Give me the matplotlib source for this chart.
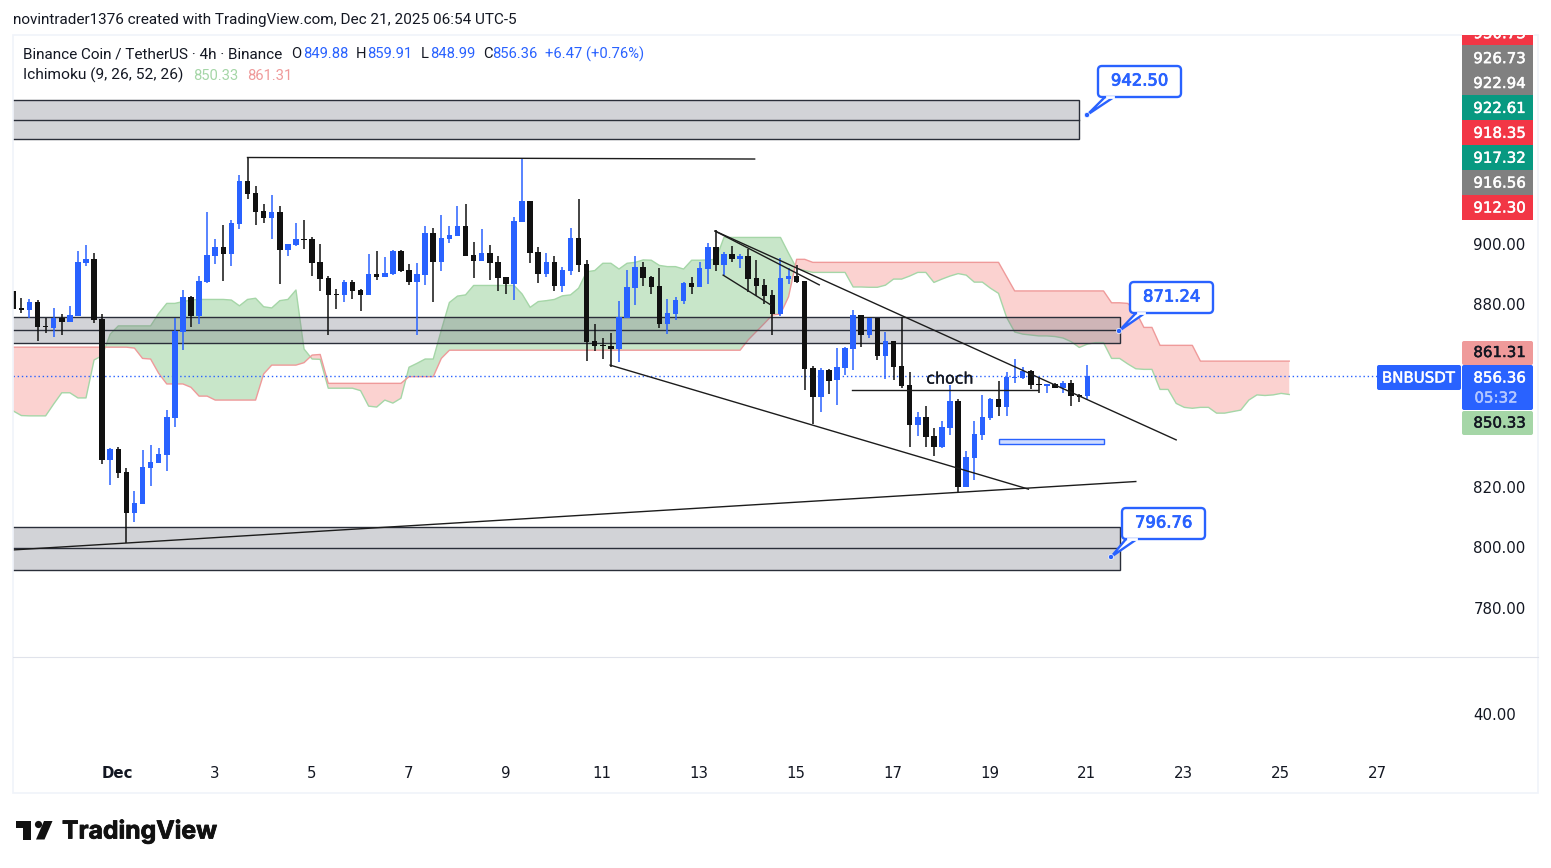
import matplotlib
matplotlib.use("Agg")
import matplotlib.pyplot as plt
import matplotlib.patheffects as pe
from matplotlib.patches import FancyBboxPatch, Polygon, Rectangle, Circle

W, H = 1551, 868
BLUE = "#2962ff"
BLACK = "#111111"
TEXT = "#131722"

# candles, 4h bars
opens = [
    884.3, 878.8, 878.1, 880.8, 872.9, 872.3, 875.5, 874.3, 876.2, 893.6,
    894.9, 875.2, 828.9, 832.4, 824.8, 811.5, 814.4, 826.3, 827.9, 830.5,
    842.7, 871.0, 882.4, 876.3, 887.3, 896.0, 898.9, 896.7, 906.5, 920.6,
    916.6, 910.7, 908.5, 910.4, 898.0, 899.5, 901.5, 901.5, 893.9, 888.6,
    883.4, 883.2, 887.3, 884.7, 883.2, 890.0, 889.0, 890.0, 897.5, 891.3,
    887.3, 889.6, 903.5, 893.9, 901.5, 902.5, 905.8, 896.2, 894.2, 896.9,
    893.9, 889.0, 886.7, 907.1, 914.0, 897.2, 890.0, 893.9, 886.0, 891.0,
    901.8, 893.3, 867.9, 866.6, 866.3, 865.3, 875.6, 885.4, 892.3, 889.0,
    886.0, 873.5, 876.8, 881.1, 887.0, 885.7, 891.6, 898.9, 892.9, 896.6,
    894.9, 895.9, 888.7, 886.3, 883.1, 876.8, 888.3, 889.3, 887.7, 859.0,
    849.5, 858.4, 855.1, 859.0, 865.3, 876.5, 869.9, 875.5, 863.0, 867.9,
    859.7, 853.4, 840.3, 842.9, 836.7, 833.1, 839.3, 848.2, 819.9, 829.4,
    837.0, 842.6, 848.8, 846.2, 855.8, 855.8, 858.1, 853.8, 853.1, 853.8,
    852.5, 854.1, 850.2, 849.88,
]
closes = [
    878.6, 878.1, 880.8, 872.7, 872.5, 875.5, 874.3, 876.5, 893.9, 894.9,
    874.8, 828.9, 832.4, 824.6, 811.5, 814.5, 826.5, 828.1, 830.8, 842.9,
    871.3, 882.4, 876.3, 887.7, 896.2, 898.9, 896.7, 906.7, 920.6, 916.4,
    910.5, 908.5, 910.4, 898.0, 899.8, 901.5, 901.2, 893.7, 888.4, 883.2,
    883.1, 887.3, 884.5, 883.2, 890.0, 889.0, 890.3, 897.5, 891.1, 887.3,
    890.0, 903.5, 893.9, 901.8, 902.8, 905.8, 895.9, 894.2, 896.9, 893.6,
    888.7, 886.7, 907.4, 914.0, 896.9, 890.0, 893.9, 886.0, 891.3, 901.8,
    892.9, 867.6, 866.3, 866.3, 865.3, 875.8, 885.7, 892.3, 888.7, 885.7,
    873.5, 877.1, 881.4, 887.0, 885.7, 891.9, 898.9, 892.9, 896.6, 894.9,
    895.9, 888.3, 886.0, 882.7, 876.8, 888.7, 889.3, 887.3, 858.7, 849.5,
    858.4, 854.8, 859.4, 865.6, 876.5, 869.9, 875.5, 863.0, 867.9, 859.4,
    853.1, 840.3, 842.9, 836.3, 833.1, 839.6, 848.2, 819.9, 829.8, 837.3,
    842.9, 848.8, 846.2, 856.1, 856.1, 858.1, 853.5, 853.5, 853.8, 852.5,
    854.1, 849.8, 849.5, 856.36,
]
highs = [
    884.5, 882.0, 881.7, 881.4, 875.6, 878.8, 876.8, 879.4, 897.5, 899.5,
    896.9, 876.8, 832.6, 833.1, 826.0, 818.6, 832.1, 833.7, 832.7, 845.1,
    875.6, 884.7, 882.7, 889.3, 910.4, 901.5, 906.1, 907.7, 922.5, 928.3,
    918.9, 913.0, 916.0, 912.3, 899.8, 906.7, 907.7, 902.0, 899.8, 889.3,
    885.0, 888.0, 888.0, 885.0, 896.5, 897.5, 895.6, 897.9, 897.9, 893.3,
    893.6, 905.8, 905.1, 909.4, 905.8, 912.3, 913.0, 900.5, 904.8, 899.5,
    895.9, 889.0, 908.7, 927.8, 914.0, 898.9, 896.9, 895.9, 892.3, 905.1,
    914.6, 894.6, 873.5, 868.9, 870.6, 881.1, 891.3, 895.9, 893.9, 889.3,
    891.9, 881.7, 882.4, 887.3, 889.0, 893.9, 900.2, 904.4, 897.2, 899.2,
    896.6, 898.2, 894.6, 888.3, 884.7, 895.2, 891.9, 892.9, 887.7, 859.7,
    859.0, 858.7, 865.6, 865.9, 878.1, 876.5, 875.5, 875.5, 870.9, 867.9,
    875.8, 857.7, 844.6, 846.5, 839.3, 841.6, 853.4, 848.8, 831.8, 841.6,
    850.2, 849.2, 854.8, 857.7, 862.0, 859.4, 858.4, 856.1, 853.8, 854.2,
    854.8, 855.1, 850.5, 859.91,
]
lows = [
    878.5, 877.3, 875.4, 868.0, 870.7, 869.4, 870.0, 874.3, 876.0, 892.6,
    874.0, 827.5, 820.6, 823.0, 801.4, 808.5, 814.4, 820.3, 827.9, 825.3,
    839.8, 865.1, 872.7, 873.6, 887.0, 893.4, 887.8, 892.7, 904.9, 914.7,
    906.2, 906.9, 901.6, 886.8, 896.0, 899.2, 898.3, 889.4, 884.5, 870.0,
    878.6, 880.9, 881.9, 877.9, 883.2, 888.1, 889.0, 889.6, 890.6, 886.5,
    869.9, 886.3, 880.8, 891.0, 900.2, 902.5, 895.9, 888.7, 894.2, 888.0,
    884.4, 883.4, 881.4, 907.1, 893.6, 887.0, 889.0, 884.4, 884.0, 889.6,
    890.6, 861.3, 864.6, 862.0, 859.5, 861.0, 875.6, 879.8, 886.0, 883.4,
    872.2, 870.2, 874.8, 880.1, 883.4, 885.7, 886.7, 891.0, 889.6, 893.9,
    892.0, 884.0, 882.7, 880.1, 869.9, 876.2, 886.7, 887.0, 851.8, 840.6,
    844.6, 850.5, 846.9, 856.7, 858.4, 865.9, 868.9, 861.7, 855.4, 855.1,
    852.5, 833.1, 836.7, 833.1, 830.1, 832.7, 837.0, 818.3, 819.9, 822.2,
    835.4, 841.9, 843.3, 843.3, 854.1, 855.4, 852.1, 850.8, 850.8, 852.5,
    850.8, 846.5, 847.9, 848.99,
]

# ichimoku cloud edges, they run 25 bars past the last candle
span_a = [
    844.9, 843.4, 843.3, 843.3, 843.3, 847.2, 850.9, 850.9, 849.2, 849.2,
    861.7, 863.1, 870.2, 872.9, 872.9, 872.9, 872.9, 872.9, 877.0, 880.3,
    880.3, 880.9, 881.4, 881.6, 881.6, 881.6, 881.6, 881.4, 879.5, 881.6,
    882.0, 879.2, 878.8, 881.2, 881.6, 884.7, 865.3, 862.0, 861.9, 852.4,
    852.4, 852.4, 852.4, 851.6, 846.5, 846.2, 848.5, 847.5, 849.1, 859.3,
    860.6, 862.0, 862.0, 871.5, 880.6, 882.7, 883.1, 886.2, 886.2, 886.2,
    886.2, 886.2, 886.2, 883.4, 879.0, 880.9, 881.2, 881.6, 882.8, 883.1,
    885.3, 890.7, 891.1, 893.5, 893.5, 891.6, 893.5, 893.8, 894.6, 894.5,
    892.8, 892.4, 892.4, 891.6, 894.5, 894.5, 894.6, 894.8, 902.0, 902.0,
    902.0, 902.0, 902.0, 902.0, 902.0, 902.0, 896.8, 891.8, 891.1, 890.5,
    890.5, 890.5, 890.5, 890.5, 885.7, 885.7, 885.6, 885.6, 886.3, 888.3,
    888.3, 889.3, 890.5, 890.5, 887.2, 888.3, 889.3, 890.1, 889.6, 887.3,
    887.3, 885.3, 883.6, 875.7, 870.9, 870.2, 869.9, 869.6, 869.6, 869.4,
    868.9, 867.7, 865.8, 866.9, 867.4, 867.4, 862.2, 862.2, 860.4, 858.8,
    858.6, 858.6, 852.0, 852.0, 847.4, 846.1, 845.8, 846.1, 846.1, 844.2,
    844.2, 844.7, 845.2, 848.5, 850.2, 850.0, 850.2, 850.7, 850.33,
]
span_b = [
    865.9, 865.9, 865.9, 865.9, 865.9, 865.9, 865.9, 865.9, 865.9, 865.9,
    865.9, 865.9, 865.9, 865.9, 865.9, 865.6, 862.2, 862.0, 857.3, 853.8,
    853.8, 853.8, 852.7, 849.8, 849.8, 848.5, 848.5, 848.5, 848.5, 848.5,
    848.5, 857.1, 860.0, 860.0, 860.0, 860.0, 860.8, 863.3, 863.5, 854.0,
    854.0, 854.0, 854.0, 854.0, 854.0, 854.0, 854.0, 854.0, 854.0, 856.2,
    856.2, 856.2, 856.2, 862.2, 864.9, 864.9, 864.9, 864.9, 864.9, 864.9,
    864.9, 864.9, 864.9, 864.9, 864.9, 864.9, 864.9, 864.9, 864.9, 864.9,
    864.9, 864.9, 864.9, 864.9, 864.9, 864.9, 864.9, 864.9, 864.9, 864.9,
    864.9, 864.9, 864.9, 864.9, 864.9, 864.9, 864.9, 864.9, 864.9, 864.9,
    864.9, 868.3, 871.0, 873.7, 876.5, 876.8, 882.5, 894.8, 894.8, 893.8,
    893.8, 893.8, 893.8, 893.8, 893.8, 893.8, 893.8, 893.8, 893.8, 893.8,
    893.8, 893.8, 893.8, 893.8, 893.8, 893.8, 893.8, 893.8, 893.8, 893.8,
    893.8, 893.8, 893.8, 889.1, 884.4, 884.4, 884.4, 884.4, 884.4, 884.4,
    884.4, 884.4, 884.4, 884.4, 884.4, 884.4, 880.5, 880.5, 880.3, 877.6,
    872.4, 872.4, 866.5, 866.5, 866.5, 866.5, 866.5, 861.31, 861.31, 861.31,
    861.31, 861.31, 861.31, 861.31, 861.31, 861.31, 861.31, 861.31, 861.31,
]

# supply / demand boxes: first bar, last bar, top, middle, bottom
zones = [
    (-10, 132, 947.2, 940.6, 934.4),
    (-10, 137, 875.7, 871.4, 867.2),
    (-10, 137, 806.9, 799.9, 792.7),
]
# trend lines: bar, price, bar, price
trend_lines = [
    (0, 799.2, 139, 821.7),
    (29, 928.3, 91.8, 927.8),
    (73.9, 860.0, 125.7, 819.2),
    (86.9, 904.1, 144, 835.4),
    (86.9, 904.1, 99.8, 886.4),
    (87.9, 889.6, 93.8, 879.8),
    (103.8, 851.8, 126.9, 851.8),
]
target_box = (122, 135, 834.0, 835.6)
last_price = 856.36

price_ticks = [780, 800, 820, 880, 900]
day_labels = ["Dec", "3", "5", "7", "9", "11", "13", "15", "17", "19", "21", "23", "25", "27"]
day_bars = [13, 25, 37, 49, 61, 73, 85, 97, 109, 121, 133, 145, 157, 169]

stack_labels = ["930.73", "926.73", "922.94", "922.61", "918.35", "917.32", "916.56", "912.30"]
stack_colors = ["#f23645", "#808080", "#808080", "#089981", "#f23645", "#089981", "#808080", "#f23645"]

callouts = [
    ("942.50", (1098, 66, 1181, 97), (1087, 115), (1105, 1114)),
    ("871.24", (1130, 282, 1213, 313), (1119, 331), (1136, 1145)),
    ("796.76", (1122, 508, 1205, 539), (1111, 557), (1126, 1137)),
]


def px_axes(left, top, right, bottom):
    return fig.add_axes([left / W, 1 - bottom / H, (right - left) / W, (bottom - top) / H])


def heavier(color, w=0.35):
    return [pe.withStroke(linewidth=w, foreground=color)]


fig = plt.figure(figsize=(W / 100, H / 100), dpi=100, facecolor="white")

ax = px_axes(13, 35, 1461, 656)
ax.set_xlim(-0.04, 179.27)
ax.set_ylim(764.3, 968.6)
for s in ax.spines.values():
    s.set_visible(False)

# cloud
cloud_x = list(range(len(span_a)))
ax.fill_between(cloud_x, span_a, span_b, where=[a >= b for a, b in zip(span_a, span_b)],
                interpolate=True, color="#c8e6c9", lw=0, zorder=1)
ax.fill_between(cloud_x, span_a, span_b, where=[a < b for a, b in zip(span_a, span_b)],
                interpolate=True, color="#fbd2d0", lw=0, zorder=1)
ax.plot(cloud_x, span_a, color="#a5d6a7", lw=1.0, zorder=1.5)
ax.plot(cloud_x, span_b, color="#ef9a9a", lw=1.0, zorder=1.5)

# zones
for x0, x1, top, mid, bot in zones:
    ax.add_patch(Rectangle((x0, bot), x1 - x0, top - bot, facecolor="#787b86", alpha=0.33, lw=0, zorder=2))
    ax.add_patch(Rectangle((x0, bot), x1 - x0, top - bot, fill=False, edgecolor="#2a2e39", lw=1.0, zorder=2.1))
    ax.plot([x0, x1], [mid, mid], color="#2a2e39", lw=1.0, zorder=2.1)

ax.add_patch(Rectangle((target_box[0], target_box[2]), target_box[1] - target_box[0],
                       target_box[3] - target_box[2], facecolor="#cfdcff", edgecolor=BLUE, lw=1.0, zorder=2))

# candles
bars = list(range(len(opens)))
colors = [BLUE if c >= o else BLACK for o, c in zip(opens, closes)]
ax.vlines(bars, lows, highs, colors=colors, lw=1.1, zorder=3)
ax.bar(bars, [abs(c - o) for o, c in zip(opens, closes)], bottom=[min(o, c) for o, c in zip(opens, closes)],
       width=0.68, color=colors, lw=0, zorder=3)

for x0, y0, x1, y1 in trend_lines:
    ax.plot([x0, x1], [y0, y1], color="#1c1c1c", lw=1.0, zorder=4)
ax.text(116.0, 855.4, "choch", color=TEXT, fontsize=11.4, ha="center", va="center", zorder=4,
        path_effects=heavier(TEXT, 0.2))

ax.axhline(last_price, color=BLUE, lw=1.0, ls=(0, (1, 2)), zorder=2.5)

ax.set_xticks([])
ax.yaxis.tick_right()
ax.set_yticks(price_ticks)
ax.set_yticklabels(["%.2f" % p for p in price_ticks], fontsize=10.8, color=TEXT)
ax.tick_params(axis="y", length=0, pad=9)

# lower pane and time axis
ax_low = px_axes(13, 656, 1461, 760)
ax_low.set_xlim(0.03, 179.34)
ax_low.set_ylim(-6, 98)
for s in ax_low.spines.values():
    s.set_visible(False)
ax_low.yaxis.tick_right()
ax_low.set_yticks([40])
ax_low.set_yticklabels(["40.00"], fontsize=10.8, color=TEXT)
ax_low.set_xticks(day_bars)
ax_low.set_xticklabels(day_labels, fontsize=10.8, color=TEXT)
ax_low.get_xticklabels()[0].set_fontweight("bold")
ax_low.tick_params(axis="y", length=0, pad=9)
ax_low.tick_params(axis="x", length=0, pad=4.2)

# overlay in pixel coordinates for the scale badges, callouts and page text
ui = px_axes(0, 0, W, H)
ui.set_xlim(0, W)
ui.set_ylim(H, 0)
ui.axis("off")
ui.patch.set_alpha(0)

frame = "#f0f3fa"
ui.add_patch(Rectangle((12.5, 34.5), 1525.5, 758.5, fill=False, edgecolor=frame, lw=1.2))
ui.plot([13, 1538], [656.5, 656.5], color="#e0e3eb", lw=0.8)

for i, (lab, col) in enumerate(zip(stack_labels, stack_colors)):
    y0 = 20.5 + i * 24.9
    ui.add_patch(Rectangle((1462, y0), 71, 24.9, facecolor=col, lw=0))
    ui.text(1499.5, y0 + 13.2, lab, color="white", fontsize=10.8, ha="center", va="center",
            path_effects=heavier("white"))
ui.add_patch(Rectangle((1462, 15), 72, 19.5, facecolor="white", lw=0, zorder=3))

ui.add_patch(FancyBboxPatch((1462, 341), 71, 24, boxstyle="round,pad=0,rounding_size=2", facecolor="#ef9a9a", lw=0))
ui.add_patch(FancyBboxPatch((1462, 411), 71, 24, boxstyle="round,pad=0,rounding_size=2", facecolor="#a5d6a7", lw=0))
ui.add_patch(FancyBboxPatch((1462, 365), 71, 45, boxstyle="round,pad=0,rounding_size=2", facecolor=BLUE, lw=0))
ui.add_patch(FancyBboxPatch((1377, 365), 84, 25, boxstyle="round,pad=0,rounding_size=2", facecolor=BLUE, lw=0))
ui.text(1499.5, 352.5, "861.31", color=TEXT, fontsize=10.8, ha="center", va="center", path_effects=heavier(TEXT))
ui.text(1499.5, 423, "850.33", color=TEXT, fontsize=10.8, ha="center", va="center", path_effects=heavier(TEXT))
ui.text(1499.5, 378, "856.36", color="white", fontsize=10.8, ha="center", va="center", path_effects=heavier("white"))
ui.text(1496, 398, "05:32", color="#b4c8ff", fontsize=10.8, ha="center", va="center", path_effects=heavier("#b4c8ff"))
ui.text(1418.5, 378, "BNBUSDT", color="white", fontsize=10.8, ha="center", va="center", path_effects=heavier("white"))

for lab, (x0, y0, x1, y1), (dx, dy), (b0, b1) in callouts:
    ui.add_patch(Polygon([(dx, dy), (b0, y1), (b1, y1)], closed=True, facecolor="white", edgecolor=BLUE, lw=1.7))
    ui.add_patch(FancyBboxPatch((x0, y0), x1 - x0, y1 - y0, boxstyle="round,pad=0,rounding_size=4",
                                facecolor="white", edgecolor=BLUE, lw=1.7))
    ui.plot([b0 + 1.5, b1 - 1.5], [y1, y1], color="white", lw=2)
    ui.add_patch(Circle((dx, dy), 2.6, facecolor=BLUE, edgecolor="white", lw=0.5))
    ui.text((x0 + x1) / 2, (y0 + y1) / 2 - 0.5, lab, color=BLUE, fontsize=11.8, ha="center", va="center",
            path_effects=heavier(BLUE, 0.6))

ff = "Roboto"
ui.text(13, 20, "novintrader1376 created with TradingView.com, Dec 21, 2025 06:54 UTC-5", color=TEXT,
        fontsize=10.97, family=ff, va="center")
ui.text(23, 54.5, "Binance Coin / TetherUS · 4h · Binance", color=TEXT, fontsize=11.0, family=ff, va="center")
for x, s, c in [(291, "O", TEXT), (303, "849.88", BLUE), (356, "H", TEXT), (367, "859.91", BLUE),
                (421, "L", TEXT), (430, "848.99", BLUE), (483, "C", TEXT), (492, "856.36", BLUE),
                (545, "+6.47 (+0.76%)", BLUE)]:
    ui.text(x, 54.5, s, color=c, fontsize=10.6, family=ff, va="center")
ui.text(23, 75.5, "Ichimoku (9, 26, 52, 26)", color=TEXT, fontsize=11.15, family=ff, va="center")
ui.text(193, 75.5, "850.33", color="#a5d6a7", fontsize=10.6, family=ff, va="center")
ui.text(247, 75.5, "861.31", color="#ef9a9a", fontsize=10.6, family=ff, va="center")

# logo
ui.add_patch(Polygon([(15.5, 821), (31, 821), (31, 839.5), (22.5, 839.5), (22.5, 828), (15.5, 828)], closed=True,
                     facecolor=BLACK, lw=0))
ui.add_patch(Circle((38.5, 824.5), 3.6, facecolor=BLACK, lw=0))
ui.add_patch(Polygon([(44, 821), (52.5, 821), (44.5, 839.5), (36, 839.5)], closed=True, facecolor=BLACK, lw=0))
ui.text(62, 831, "TradingView", color=BLACK, fontsize=17.8, family="Inter", fontweight="bold", va="center",
        path_effects=heavier(BLACK, 0.6))

fig.savefig("out.png", dpi=100)
